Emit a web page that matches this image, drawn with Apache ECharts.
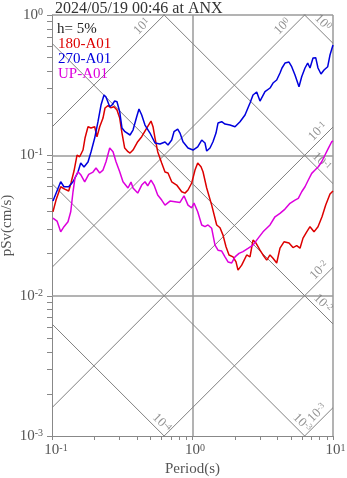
<!DOCTYPE html>
<html>
<head>
<meta charset="utf-8">
<script src="https://cdn.jsdelivr.net/npm/echarts@6/dist/echarts.min.js"></script>
<style>
html, body { margin: 0; padding: 0; background: #fff; }
#chart { width: 347px; height: 478px; }
</style>
</head>
<body>
<div id="chart"></div>
<script>
// Pseudo-velocity response spectra (h = 5%), tripartite log-log plot.
const titleText = '2024/05/19 00:46 at ANX';
const dampingText = 'h= 5%';
const seriesNames = ['180-A01', '270-A01', 'UP-A01'];
const seriesColors = ['#dd0000', '#0000dd', '#dd00dd'];

// [period (s), pSv (cm/s)]
const spectrum180 = [
  [0.1016,0.0396],[0.1068,0.0480],[0.1153,0.0597],[0.1231,0.0575],[0.1315,0.0557],[0.1365,0.0635],
  [0.1434,0.0773],[0.1507,0.1005],[0.1574,0.0977],[0.1662,0.1091],[0.1718,0.1328],[0.1804,0.1599],
  [0.1895,0.1565],[0.2013,0.1599],[0.2090,0.1357],[0.2185,0.1599],[0.2307,0.1844],[0.2384,0.2174],
  [0.2504,0.2257],[0.2617,0.2185],[0.2762,0.2220],[0.2901,0.2103],[0.3033,0.1844],[0.3149,0.1442],
  [0.3291,0.1127],[0.3474,0.1061],[0.3592,0.1038],[0.3772,0.1091],[0.4074,0.1250],[0.4350,0.1357],
  [0.4721,0.1565],[0.5066,0.1756],[0.5235,0.1599],[0.5409,0.1328],[0.5653,0.1061],[0.6035,0.0881],
  [0.6373,0.0760],[0.6693,0.0748],[0.7112,0.0648],[0.7717,0.0614],[0.8379,0.0550],[0.8845,0.0538],
  [0.9290,0.0566],[0.9870,0.0635],[1.0418,0.0785],[1.0890,0.0881],[1.1496,0.0829],[1.1878,0.0764],
  [1.2619,0.0585],[1.3696,0.0442],[1.4868,0.0319],[1.5697,0.0305],[1.6487,0.0270],[1.7318,0.0223],
  [1.8193,0.0195],[1.9424,0.0189],[2.0402,0.0174],[2.1082,0.0152],[2.2395,0.0165],[2.4304,0.0195],
  [2.5664,0.0189],[2.6955,0.0249],[2.8314,0.0237],[3.0226,0.0211],[3.1762,0.0195],[3.3746,0.0179],
  [3.5622,0.0195],[3.7413,0.0185],[3.9742,0.0171],[4.1952,0.0218],[4.4788,0.0242],[4.8623,0.0237],
  [5.1915,0.0220],[5.5165,0.0227],[5.8237,0.0218],[6.1176,0.0257],[6.4997,0.0285],[6.8601,0.0310],
  [7.3258,0.0285],[7.8207,0.0310],[8.3514,0.0365],[8.8729,0.0442],[9.5197,0.0530],[10,0.0557]
];
const spectrum270 = [
  [0.1016,0.0472],[0.1153,0.0648],[0.1217,0.0597],[0.1315,0.0597],[0.1411,0.0648],[0.1531,0.0760],
  [0.1601,0.0881],[0.1690,0.0825],[0.1804,0.0896],[0.1895,0.1056],[0.2013,0.1328],[0.2125,0.1736],
  [0.2233,0.2283],[0.2345,0.2691],[0.2423,0.2603],[0.2575,0.2220],[0.2673,0.2283],[0.2794,0.2438],
  [0.2901,0.2410],[0.3033,0.2045],[0.3149,0.1565],[0.3307,0.1473],[0.3592,0.1396],[0.3772,0.1515],
  [0.4007,0.1884],[0.4161,0.2138],[0.4350,0.1938],[0.4591,0.1644],[0.4983,0.1442],[0.5409,0.1224],
  [0.5869,0.1204],[0.6373,0.1244],[0.6693,0.1184],[0.7112,0.1285],[0.7386,0.1473],[0.7846,0.1539],
  [0.8147,0.1442],[0.8556,0.1250],[0.9290,0.1127],[1.0083,0.1091],[1.0890,0.1151],[1.1630,0.1285],
  [1.2274,0.1224],[1.2619,0.1073],[1.3320,0.1127],[1.3989,0.1250],[1.4699,0.1442],[1.5188,0.1699],
  [1.6136,0.1736],[1.7033,0.1671],[1.8493,0.1644],[2.0071,0.1599],[2.1784,0.1736],[2.3640,0.1938],
  [2.5664,0.2359],[2.6955,0.2691],[2.8637,0.2826],[3.0226,0.2438],[3.2810,0.2840],[3.5622,0.3018],
  [3.7413,0.3276],[3.9742,0.3441],[4.1952,0.3860],[4.3351,0.4191],[4.5536,0.4547],[4.8623,0.4624],
  [5.0820,0.4282],[5.3647,0.3737],[5.7280,0.3083],[5.9867,0.3634],[6.3199,0.4191],[6.6057,0.4547],
  [6.8601,0.4191],[7.2067,0.4939],[7.5325,0.4963],[7.8207,0.4191],[8.2158,0.3799],[8.6300,0.4055],
  [9.1690,0.4282],[9.5197,0.5188],[10,0.6111]
];
const spectrumUP = [
  [0.1016,0.0357],[0.1086,0.0340],[0.1153,0.0285],[0.1217,0.0310],[0.1300,0.0336],[0.1359,0.0396],
  [0.1411,0.0550],[0.1458,0.0692],[0.1531,0.0764],[0.1608,0.0724],[0.1709,0.0648],[0.1825,0.0732],
  [0.1958,0.0760],[0.2057,0.0812],[0.2185,0.0748],[0.2307,0.0785],[0.2423,0.0900],[0.2575,0.1127],
  [0.2718,0.1061],[0.2855,0.0900],[0.3033,0.0764],[0.3201,0.0648],[0.3474,0.0585],[0.3650,0.0645],
  [0.3772,0.0585],[0.4074,0.0538],[0.4350,0.0614],[0.4591,0.0648],[0.4799,0.0607],[0.5066,0.0667],
  [0.5321,0.0614],[0.5653,0.0521],[0.6035,0.0480],[0.6373,0.0442],[0.6917,0.0472],[0.7508,0.0467],
  [0.8147,0.0462],[0.8700,0.0515],[0.9290,0.0442],[0.9870,0.0423],[1.0249,0.0457],[1.0890,0.0396],
  [1.1630,0.0319],[1.2274,0.0310],[1.2890,0.0319],[1.3696,0.0302],[1.4459,0.0229],[1.5188,0.0211],
  [1.6136,0.0208],[1.7033,0.0189],[1.7897,0.0174],[1.9011,0.0171],[2.0071,0.0189],[2.1429,0.0200],
  [2.2876,0.0206],[2.4831,0.0217],[2.6955,0.0229],[2.9258,0.0256],[3.1762,0.0285],[3.5622,0.0319],
  [3.8651,0.0365],[4.1952,0.0386],[4.5536,0.0414],[4.9431,0.0455],[5.3647,0.0480],[5.6624,0.0494],
  [5.9867,0.0550],[6.3199,0.0597],[6.6726,0.0667],[7.0550,0.0744],[7.4466,0.0785],[7.8627,0.0829],
  [8.3111,0.0900],[8.7720,0.1005],[9.2600,0.1122],[9.7880,0.1250],[10,0.1265]
];

const periodRange = [0.1, 10];
const psvRange = [0.001, 1];
// decade grid lines inside the frame (plus top and right frame edges)
const periodGrid = [1, 10];
const psvGrid = [0.01, 0.1, 1];
// Tripartite guide lines: displacement (cm) and acceleration (cm/s^2)
const dispLevels = [1e-4, 1e-3, 1e-2, 1e-1, 1];
const accLevels = [1e-3, 1e-2, 1e-1, 1, 10];
// how far back from the plot edge each guide label sits (decades along the line)
const dispLabelBack = [0.055, 0.055, 0.11, 0.12, 0.11];
const accLabelBack = [0.075, 0.06, 0.07, 0.12, 0.12];

const FONT = 'Liberation Serif';
const GRAY_TXT = '#555';
const AXIS_GRAY = '#888';
const GRID_GRAY = '#9a9a9a';
const TWO_PI = 2 * Math.PI;
const log10 = Math.log10;

// 1..9 x 10^k tick positions across the range
function logTicks(lo, hi) {
  const out = [];
  for (let k = Math.round(log10(lo)); k < Math.round(log10(hi)); k++) {
    for (let m = 1; m <= 9; m++) out.push(+(m * Math.pow(10, k)).toPrecision(6));
  }
  out.push(hi);
  return out;
}

function expLabel(v, withPad) {
  const e = String(Math.round(log10(v)));
  const pad = withPad ? '{p' + e.length + '|}' : '';
  return pad + '{b|10}{s|' + e + '}';
}

const axisRich = {
  b: { fontFamily: FONT, fontSize: 15, color: GRAY_TXT },
  s: { fontFamily: FONT, fontSize: 10, color: GRAY_TXT, verticalAlign: 'top' },
  p1: { width: 5 },
  p2: { width: 8 }
};

// guide line series
const guideSeries = [];
const guideLabels = [];
const L1 = log10(periodRange[1]);
const S0 = log10(psvRange[0]), S1 = log10(psvRange[1]);
const g = 0.038; // perpendicular offset of labels, decades

dispLevels.forEach((D, i) => {
  const sv = T => TWO_PI * D / T;
  guideSeries.push({ type: 'line', data: [[periodRange[0], sv(periodRange[0])], [periodRange[1], sv(periodRange[1])]] });
  let lt = L1, ls = log10(sv(periodRange[1]));
  if (ls < S0) { ls = S0; lt = log10(TWO_PI * D / psvRange[0]); }
  const b = dispLabelBack[i];
  const ft = lt - b, fs = ls + b;
  guideLabels.push({ value: [Math.pow(10, ft + g), Math.pow(10, fs + g)], label: { rotate: -45, formatter: expLabel(D, false) } });
});
accLevels.forEach((A, i) => {
  const sv = T => A * T / TWO_PI;
  guideSeries.push({ type: 'line', data: [[periodRange[0], sv(periodRange[0])], [periodRange[1], sv(periodRange[1])]] });
  let lt = L1, ls = log10(sv(periodRange[1]));
  if (ls > S1) { ls = S1; lt = log10(psvRange[1] * TWO_PI / A); }
  const b = accLabelBack[i];
  const ft = lt - b, fs = ls - b;
  guideLabels.push({ value: [Math.pow(10, ft - g), Math.pow(10, fs + g)], label: { rotate: 45, formatter: expLabel(A, false) } });
});

guideSeries.forEach(s => Object.assign(s, {
  symbol: 'none', silent: true, clip: true, z: 1,
  lineStyle: { color: '#808080', width: 1 }
}));

// decade grid drawn as mark lines on the first guide series
guideSeries[0].markLine = {
  silent: true, symbol: 'none', animation: false, z: 1,
  label: { show: false },
  lineStyle: { color: GRID_GRAY, width: 1.5, type: 'solid' },
  data: [...periodGrid.map(v => ({ xAxis: v })), ...psvGrid.map(v => ({ yAxis: v }))]
};

const dataSeries = [spectrum180, spectrum270, spectrumUP].map((d, i) => ({
  name: seriesNames[i], type: 'line', data: d, symbol: 'none', clip: true, z: 3,
  lineStyle: { color: seriesColors[i], width: 1.5 }, itemStyle: { color: seriesColors[i] }
}));

const dampingGraphic = {
  id: 'damping', type: 'text', left: 57, top: 22,
  style: { text: dampingText, font: '15px "Liberation Serif"', fill: '#222' }
};

const chart = echarts.init(document.getElementById('chart'), null, { renderer: 'canvas' });
chart.setOption({
  animation: false,
  backgroundColor: '#fff',
  title: {
    text: titleText, left: 50, top: -4,
    textStyle: { fontFamily: FONT, fontSize: 16, fontWeight: 'normal', color: '#333' }
  },
  graphic: [dampingGraphic],
  legend: {
    data: seriesNames.map((n, i) => ({ name: n, textStyle: { color: seriesColors[i] } })),
    orient: 'vertical', left: 53, top: 37, padding: 0, itemGap: 0, itemWidth: 0, itemHeight: 14,
    icon: 'none', selectedMode: false,
    textStyle: { fontFamily: FONT, fontSize: 15, lineHeight: 14 }
  },
  grid: { left: 52, right: 14, top: 15, bottom: 42, containLabel: false, outerBoundsMode: 'none' },
  xAxis: {
    type: 'log', logBase: 10, min: periodRange[0], max: periodRange[1],
    name: 'Period(s)', nameLocation: 'middle', nameGap: 26, nameMoveOverlap: false,
    nameTextStyle: { fontFamily: FONT, fontSize: 15, color: GRAY_TXT },
    axisLine: { lineStyle: { color: AXIS_GRAY, width: 1 } },
    axisTick: { show: false },
    axisLabel: { margin: 7, formatter: v => expLabel(v, true), rich: axisRich },
    splitLine: { show: false }
  },
  yAxis: {
    type: 'log', logBase: 10, min: psvRange[0], max: psvRange[1],
    name: 'pSv(cm/s)', nameLocation: 'middle', nameGap: 37, nameMoveOverlap: false,
    nameTextStyle: { fontFamily: FONT, fontSize: 15, color: GRAY_TXT },
    axisLine: { lineStyle: { color: AXIS_GRAY, width: 1 } },
    axisTick: { show: false },
    axisLabel: { margin: 9, formatter: v => expLabel(v, false), rich: axisRich },
    splitLine: { show: false }
  },
  series: [
    ...guideSeries,
    {
      type: 'scatter', data: guideLabels, symbolSize: 0, silent: true, z: 2,
      label: {
        show: true, position: 'inside', align: 'center', verticalAlign: 'middle',
        rich: {
          b: { fontFamily: FONT, fontSize: 13, color: '#777' },
          s: { fontFamily: FONT, fontSize: 9, color: '#777', verticalAlign: 'top' }
        }
      }
    },
    ...dataSeries
  ]
});

// outward axis ticks at 1..9 x 10^k, positioned with the chart's own scales
const tickGraphics = [];
logTicks(periodRange[0], periodRange[1]).forEach((v, i) => {
  const p = chart.convertToPixel({ gridIndex: 0 }, [v, psvRange[0]]);
  const x = Math.round(p[0]) + 0.5, y = Math.round(p[1]);
  tickGraphics.push({
    id: 'xt' + i, type: 'line', z: 10, silent: true,
    shape: { x1: x, y1: y, x2: x, y2: y + 4 },
    style: { stroke: AXIS_GRAY, lineWidth: 1 }
  });
});
logTicks(psvRange[0], psvRange[1]).forEach((v, i) => {
  const p = chart.convertToPixel({ gridIndex: 0 }, [periodRange[0], v]);
  const x = Math.round(p[0]), y = Math.round(p[1]) + 0.5;
  tickGraphics.push({
    id: 'yt' + i, type: 'line', z: 10, silent: true,
    shape: { x1: x - 5, y1: y, x2: x, y2: y },
    style: { stroke: AXIS_GRAY, lineWidth: 1 }
  });
});
chart.setOption({ graphic: [dampingGraphic, ...tickGraphics] });
</script>
</body>
</html>
